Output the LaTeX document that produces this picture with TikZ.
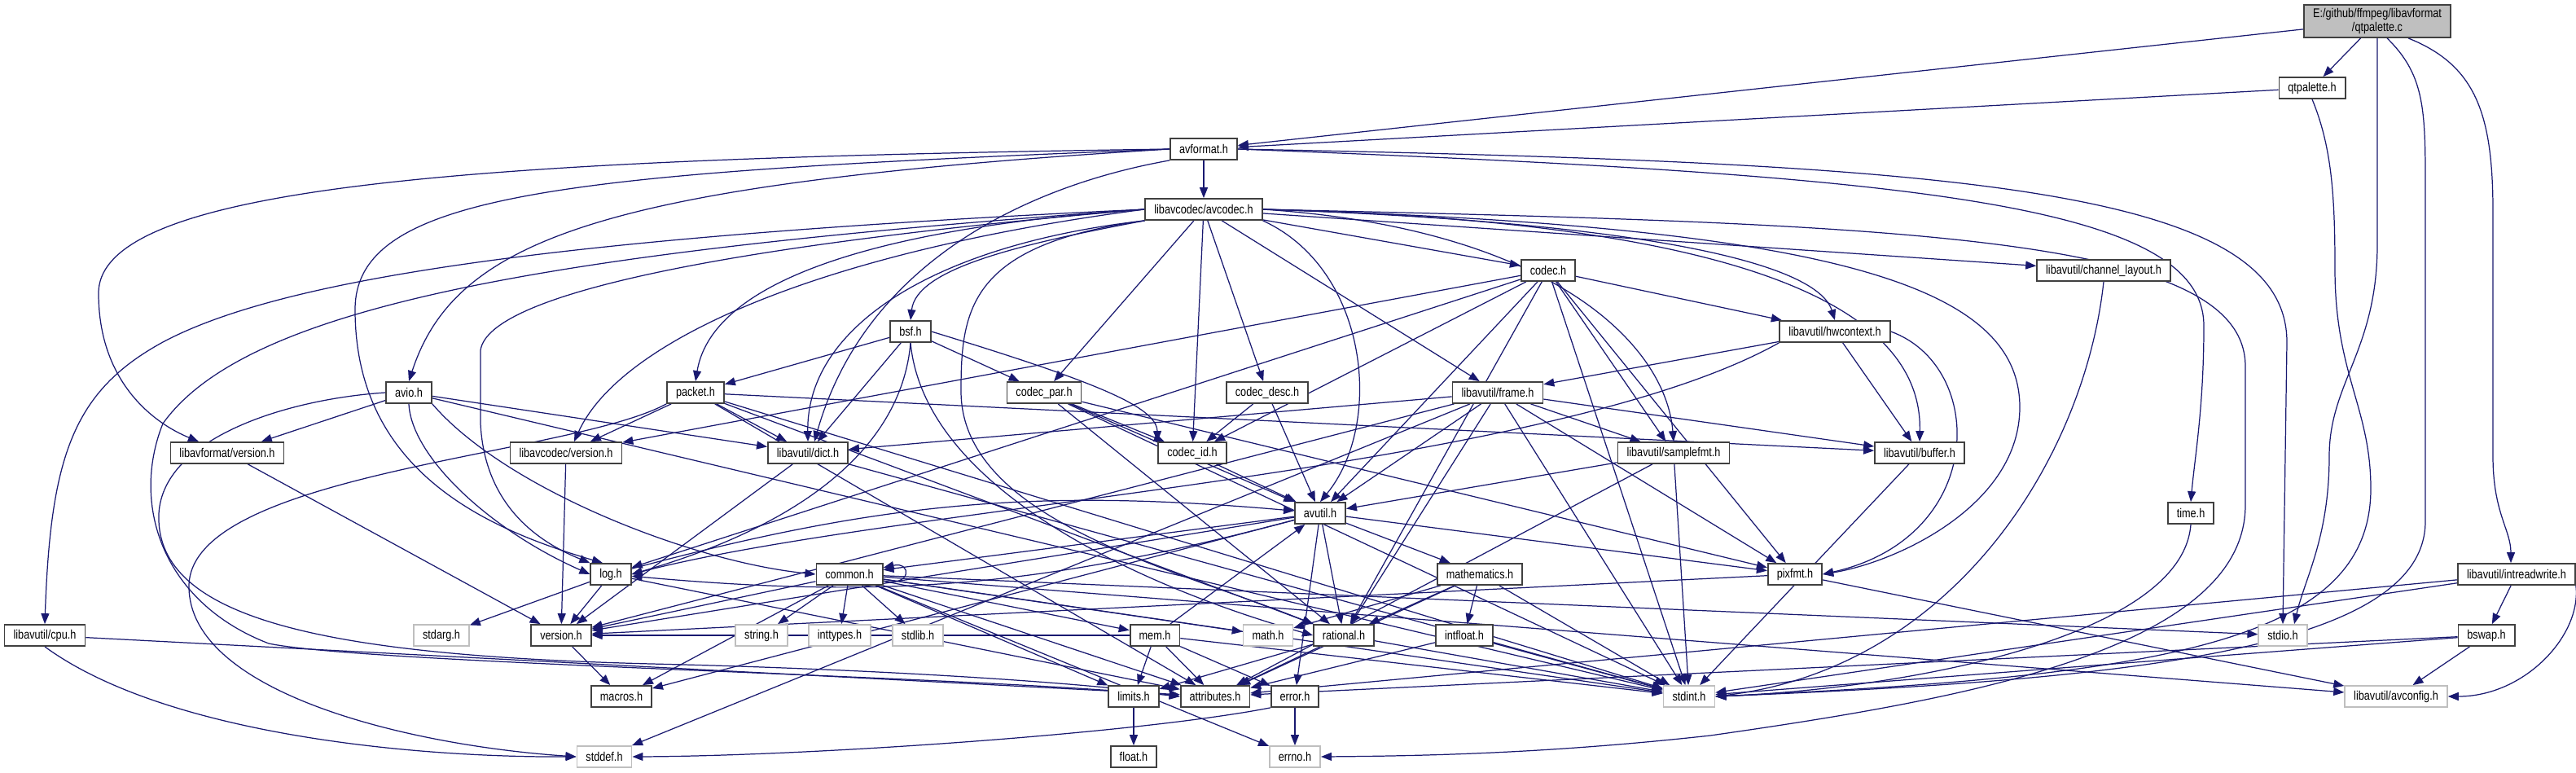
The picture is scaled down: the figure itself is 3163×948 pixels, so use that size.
\documentclass[tikz,border=0pt]{standalone}
\usepackage{fontspec}
\setmainfont[FakeStretch=0.82]{Liberation Sans}
\usepackage{tikz}
\usetikzlibrary{arrows.meta,calc}
\usepackage{xcolor}
\definecolor{edgeblue}{HTML}{191970}
\definecolor{filedraw}{HTML}{404040}
\definecolor{sysdraw}{HTML}{BFBFBF}
\definecolor{rootfill}{HTML}{BFBFBF}
\pgfdeclarelayer{bg}
\pgfdeclarelayer{edges}
\pgfsetlayers{bg,edges,main}
\tikzset{
  >={Triangle[length=1.3mm,width=1mm]},
  file/.style={draw=filedraw,fill=white,line width=0.5pt,minimum height=2.6mm,inner xsep=1.1mm,inner ysep=0pt,font=\fontsize{4.4pt}{4.6pt}\selectfont},
  sysfile/.style={file,draw=sysdraw},
  rootfile/.style={file,fill=rootfill,align=center,minimum height=4mm},
  dep/.style={->,draw=edgeblue,line width=0.35pt},
}

\begin{document}
\begin{tikzpicture}[x=0.01cm,y=-0.01cm]
\useasboundingbox (0,0) rectangle (3163,948);
\begin{pgfonlayer}{bg}
\fill[white] (0,0) rectangle (3163,948);
\end{pgfonlayer}

% top: source file and libavformat
\node[rootfile] (root) at (2919,26) {E:/github/ffmpeg/libavformat\\/qtpalette.c};
\node[file] (qtph) at (2839,108) {qtpalette.h};
\node[file] (avformat) at (1478,183) {avformat.h};
\node[file] (avcodec) at (1478,257) {libavcodec/avcodec.h};
\node[file] (codec) at (1901,332) {codec.h};
\node[file] (chlayout) at (2583,332) {libavutil/channel\_layout.h};
\node[file] (bsf) at (1118,407) {bsf.h};
\node[file] (hwctx) at (2253,407) {libavutil/hwcontext.h};
\node[file] (avio) at (502,482) {avio.h};
\node[file] (packet) at (854,482) {packet.h};
\node[file] (codecpar) at (1282,482) {codec\_par.h};
\node[file] (codecdesc) at (1556,482) {codec\_desc.h};
\node[file] (frame) at (1839,482) {libavutil/frame.h};
\node[file] (lavfver) at (279,556) {libavformat/version.h};
\node[file] (lavcver) at (695,556) {libavcodec/version.h};
\node[file] (dict) at (992,556) {libavutil/dict.h};
\node[file] (codecid) at (1464,556) {codec\_id.h};
\node[file] (samplefmt) at (2055,556) {libavutil/samplefmt.h};
\node[file] (buffer) at (2357,556) {libavutil/buffer.h};
\node[file] (avutil) at (1621,630) {avutil.h};
\node[file] (time) at (2690,630) {time.h};
\node[file] (log) at (750,705) {log.h};
\node[file] (common) at (1043,705) {common.h};
\node[file] (mathematics) at (1817,705) {mathematics.h};
\node[file] (pixfmt) at (2204,705) {pixfmt.h};
\node[file] (intrw) at (3090,705) {libavutil/intreadwrite.h};

% lower ranks: libavutil and system headers
\node[file] (cpu) at (55,780) {libavutil/cpu.h};
\node[sysfile] (stdarg) at (542,780) {stdarg.h};
\node[file] (version) at (689,780) {version.h};
\node[sysfile] (string) at (935,780) {string.h};
\node[sysfile] (inttypes) at (1031,780) {inttypes.h};
\node[sysfile] (stdlib) at (1127,780) {stdlib.h};
\node[file] (mem) at (1418,780) {mem.h};
\node[sysfile] (math) at (1557,780) {math.h};
\node[file] (rational) at (1650,780) {rational.h};
\node[file] (intfloat) at (1798,780) {intfloat.h};
\node[sysfile] (stdio) at (2803,780) {stdio.h};
\node[file] (bswap) at (3053,780) {bswap.h};
\node[file] (macros) at (763,855) {macros.h};
\node[file] (limits) at (1392,855) {limits.h};
\node[file] (attributes) at (1492,855) {attributes.h};
\node[file] (error) at (1590,855) {error.h};
\node[sysfile] (stdint) at (2074,855) {stdint.h};
\node[sysfile] (avconfig) at (2942,855) {libavutil/avconfig.h};
\node[sysfile] (stddef) at (742,929) {stddef.h};
\node[file] (float) at (1392,929) {float.h};
\node[sysfile] (errno) at (1590,929) {errno.h};

\begin{pgfonlayer}{edges}
% plain includes
\foreach \src/\dst in {root/avformat, root/qtph, qtph/avformat, avformat/avcodec,
  avcodec/chlayout, avcodec/codec, avcodec/codecdesc, avcodec/codecpar, avcodec/codecid, avcodec/frame,
  avio/lavfver, avio/dict, avio/stdint, bsf/packet, bsf/dict, bsf/codecpar,
  packet/stdint, packet/attributes, packet/buffer, packet/dict, packet/rational, packet/lavcver,
  codecpar/stdint, codecpar/avutil, codecpar/rational, codecpar/pixfmt, codecpar/codecid,
  codecdesc/avutil, codecdesc/codecid, codecid/avutil,
  codec/stdint, codec/avutil, codec/hwctx, codec/log, codec/pixfmt, codec/rational, codec/samplefmt, codec/codecid, codec/lavcver,
  hwctx/buffer, hwctx/frame,
  frame/stddef, frame/stdint, frame/avutil, frame/buffer, frame/dict, frame/rational, frame/samplefmt, frame/pixfmt, frame/version,
  lavfver/version, lavcver/version, dict/stdint, dict/version,
  samplefmt/stdint, samplefmt/avutil, samplefmt/attributes, buffer/stdint,
  avutil/common, avutil/error, avutil/rational, avutil/version, avutil/macros, avutil/mathematics, avutil/pixfmt,
  log/stdarg, log/attributes, log/version,
  common/errno, common/inttypes, common/limits, common/math, common/stdint, common/stdio, common/stdlib, common/string,
  common/attributes, common/macros, common/version, common/avconfig, common/mem,
  mathematics/stdint, mathematics/math, mathematics/attributes, mathematics/rational, mathematics/intfloat,
  pixfmt/avconfig, pixfmt/version, intrw/stdint, intrw/attributes, intrw/bswap,
  cpu/attributes, version/macros,
  mem/limits, mem/stdint, mem/attributes, mem/error, mem/avutil, mem/version,
  rational/stdint, rational/limits, rational/attributes, intfloat/stdint, intfloat/attributes,
  bswap/stdint, bswap/avconfig, bswap/attributes, limits/float, error/errno}
  \draw[dep] (\src) -- (\dst);

% routed includes
\draw[dep] (avformat.west) .. controls (600,195) and (121,225) .. (121,360) .. controls (121,470) and (190,520) .. ([xshift=-0.35cm]lavfver.north);
\draw[dep] (avformat.west) .. controls (700,212) and (436,235) .. (436,380) .. controls (436,580) and (600,650) .. ([xshift=-0.1cm]log.north);
\draw[dep] (avformat.west) .. controls (750,225) and (560,290) .. (avio.north);
\draw[dep] (avformat.south west) .. controls (1250,230) and (1060,330) .. ([xshift=0.08cm]dict.north);
\draw[dep] (avformat.east) .. controls (2350,215) and (2706,250) .. (2706,400) .. controls (2706,500) and (2695,560) .. (time.north);
\draw[dep] (avformat.east) .. controls (2400,200) and (2808,230) .. (2808,420) -- (stdio.north);

\draw[dep] (root.south) -- (2919,300) .. controls (2919,430) and (2860,470) .. (2860,560) .. controls (2860,660) and (2830,710) .. ([xshift=0.14cm]stdio.north);
\draw[dep] ([xshift=0.12cm]root.south) .. controls (2975,90) and (2978,130) .. (2978,220) -- (2978,640) .. controls (2978,800) and (2600,835) .. (stdint.east);
\draw[dep] ([xshift=0.38cm]root.south) .. controls (3040,80) and (3061,140) .. (3061,260) -- (3061,560) .. controls (3061,630) and (3083,650) .. ([xshift=-0.07cm]intrw.north);
\draw[dep] (qtph.south) .. controls (2863,180) and (2867,240) .. (2867,330) .. controls (2867,460) and (2911,500) .. (2911,600) .. controls (2911,790) and (2650,830) .. (stdint.east);

\draw[dep] (avcodec.east) .. controls (2350,275) and (2757,290) .. (2757,450) -- (2757,620) .. controls (2757,800) and (2400,860) .. (2100,903) .. controls (1900,925) and (1750,928) .. (errno.east);
\draw[dep] (avcodec.west) .. controls (700,290) and (350,340) .. (200,420) .. controls (90,480) and (62,560) .. (cpu.north);
\draw[dep] (avcodec.west) .. controls (650,310) and (300,380) .. (200,520) .. controls (160,620) and (200,740) .. (330,790) .. controls (450,815) and (1200,830) .. (attributes.west);
\draw[dep] (avcodec.west) .. controls (900,300) and (600,360) .. (590,430) -- (590,520) .. controls (595,620) and (660,665) .. (log.north west);
\draw[dep] (avcodec.west) .. controls (1000,285) and (870,370) .. (packet.north);
\draw[dep] (avcodec.south west) .. controls (1150,300) and (990,400) .. (dict.north);
\draw[dep] (avcodec.south west) .. controls (1250,300) and (1125,330) .. (bsf.north);
\draw[dep] (avcodec.west) .. controls (1000,310) and (760,420) .. ([xshift=0.1cm]lavcver.north);
\draw[dep] (avcodec.east) .. controls (1900,280) and (2045,420) .. (samplefmt.north);
\draw[dep] (avcodec.east) .. controls (2000,272) and (2230,320) .. (hwctx.north);
\draw[dep] (avcodec.east) .. controls (2150,272) and (2361,380) .. (buffer.north);
\draw[dep] (avcodec.east) .. controls (2250,278) and (2480,350) .. (2480,500) .. controls (2480,620) and (2330,690) .. (pixfmt.east);
\draw[dep] (avcodec.south east) .. controls (1680,330) and (1700,520) .. (avutil.north);
\draw[dep] (avcodec.south west) .. controls (1190,300) and (1180,380) .. (1180,480) .. controls (1180,640) and (1450,700) .. (rational.north west);

\draw[dep] (avio.south) .. controls (505,560) and (600,650) .. (log.west);
\draw[dep] (avio.south east) .. controls (620,600) and (850,690) .. (common.west);
\draw[dep] (avio.west) .. controls (350,490) and (190,540) .. (195,640) .. controls (200,760) and (400,805) .. (800,815) .. controls (1100,822) and (1350,840) .. (attributes.west);

\draw[dep] (bsf.east) .. controls (1350,470) and (1420,500) .. (codecid.north west);
\draw[dep] (bsf.south) .. controls (1108,540) and (1000,640) .. (log.east);
\draw[dep] (bsf.south) .. controls (1135,600) and (1400,720) .. (rational.west);
\draw[dep] (packet.south west) .. controls (700,560) and (232,580) .. (232,720) .. controls (232,850) and (500,915) .. (stddef.west);
\draw[dep] (hwctx.south west) .. controls (1900,580) and (1100,620) .. (log.east);
\draw[dep] (hwctx.east) .. controls (2440,450) and (2440,660) .. (pixfmt.east);

\draw[dep] (chlayout.south) .. controls (2560,560) and (2400,820) .. (stdint.east);
\draw[dep] (time.south) .. controls (2680,780) and (2350,845) .. (stdint.east);
\draw[dep] (intrw.south east) .. controls (3170,780) and (3100,855) .. (avconfig.east);
\draw[dep] (cpu.south) .. controls (200,900) and (500,930) .. (stddef.west);
\draw[dep] (error.south west) .. controls (1400,900) and (1000,928) .. (stddef.east);
\draw[dep] (log) to[bend left=10] (avutil);
\draw[dep] (avutil) to[bend left=10] (log);
\draw[dep] ([yshift=-0.08cm]common.east) .. controls +(35,8) and +(35,-8) .. ([yshift=0.08cm]common.east);
\end{pgfonlayer}

\end{tikzpicture}
\end{document}
